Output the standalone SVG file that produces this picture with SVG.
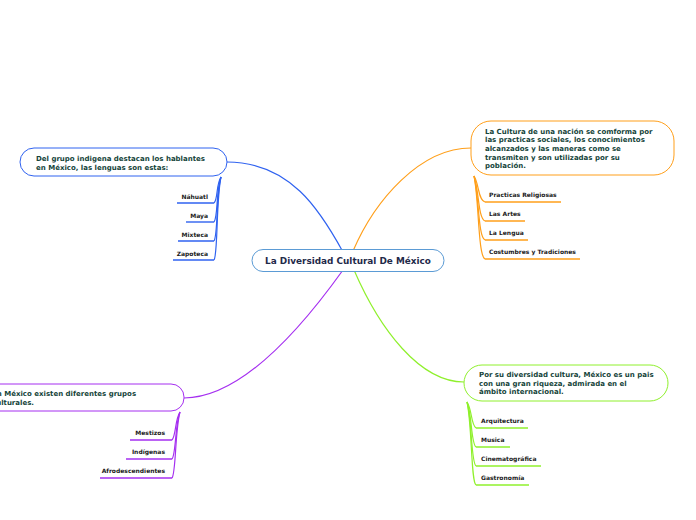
<svg xmlns="http://www.w3.org/2000/svg" width="696" height="520" viewBox="0 0 696 520">
<style>
.t{font-family:"DejaVu Sans",Verdana,sans-serif;font-weight:bold;font-size:7px;fill:#15443a}
.l{font-family:"DejaVu Sans",Verdana,sans-serif;font-weight:bold;font-size:6px;fill:#1a1a1a}
.c{fill:none;stroke-width:1.2}
.node{fill:#fff;stroke-width:1}
</style>
<rect width="696" height="520" fill="#fff"/>
<g id="connectors">
<path class="c" stroke="#2f62f0" d="M227,162 C290,162 320,210 343,252"/>
<path class="c" stroke="#ff9f1a" d="M353,251 C375,200 420,148 471,148"/>
<path class="c" stroke="#8ff02c" d="M354,270 C380,330 420,382 464,382"/>
<path class="c" stroke="#a52ff0" d="M343,270 C300,330 240,398 184,398"/>
<g stroke="#2f62f0" class="c">
<path d="M221,177 C216,184 218,200 214,203"/>
<path d="M221,177 C216,190 218,218 214,222"/>
<path d="M221,177 C216,195 218,236 214,241"/>
<path d="M221,177 C216,200 218,255 214,260"/>
</g>
<g stroke="#2f62f0" stroke-width="1.4">
<line x1="177" y1="203" x2="214" y2="203"/>
<line x1="186" y1="222" x2="214" y2="222"/>
<line x1="178" y1="241" x2="214" y2="241"/>
<line x1="173" y1="260" x2="214" y2="260"/>
</g>
<g stroke="#ff9f1a" class="c">
<path d="M474,176 C479,183 478,200 485,202"/>
<path d="M474,176 C479,190 478,218 485,221"/>
<path d="M474,176 C479,195 478,237 485,240"/>
<path d="M474,176 C479,200 478,256 485,259"/>
</g>
<g stroke="#ff9f1a" stroke-width="1.4">
<line x1="485" y1="202" x2="561" y2="202"/>
<line x1="485" y1="221" x2="525" y2="221"/>
<line x1="485" y1="240" x2="528" y2="240"/>
<line x1="485" y1="259" x2="580" y2="259"/>
</g>
<g stroke="#8ff02c" class="c">
<path d="M467,402 C472,409 471,425 476,428"/>
<path d="M467,402 C472,414 471,444 476,447"/>
<path d="M467,402 C472,419 471,463 476,466"/>
<path d="M467,402 C472,424 471,482 476,485"/>
</g>
<g stroke="#8ff02c" stroke-width="1.4">
<line x1="476" y1="428" x2="528" y2="428"/>
<line x1="476" y1="447" x2="510" y2="447"/>
<line x1="476" y1="466" x2="541" y2="466"/>
<line x1="476" y1="485" x2="529" y2="485"/>
</g>
<g stroke="#a52ff0" class="c">
<path d="M180,412 C175,419 176,436 172,440"/>
<path d="M180,412 C175,424 176,455 172,459"/>
<path d="M180,412 C175,430 176,474 172,478"/>
</g>
<g stroke="#a52ff0" stroke-width="1.4">
<line x1="130" y1="440" x2="172" y2="440"/>
<line x1="126" y1="459" x2="172" y2="459"/>
<line x1="100" y1="478" x2="172" y2="478"/>
</g>
</g>
<g id="central">
<rect class="node" x="252" y="249.5" width="192" height="22" rx="11" stroke="#5b9bd5"/>
<text x="348" y="264" text-anchor="middle" style="font-family:'DejaVu Sans',Verdana,sans-serif;font-weight:bold;font-size:8.9px;fill:#1f2a4a">La Diversidad Cultural De México</text>
</g>
<g id="node-lenguas">
<rect class="node" x="20" y="148" width="207" height="28" rx="14" stroke="#2f62f0"/>
<text class="t" x="36" y="161">Del grupo indigena destacan los hablantes</text>
<text class="t" x="36" y="170">en México, las lenguas son estas:</text>
</g>
<g id="leaves-lenguas">
<text class="l" x="208" y="199" text-anchor="end">Náhuatl</text>
<text class="l" x="208" y="218" text-anchor="end">Maya</text>
<text class="l" x="208" y="237" text-anchor="end">Mixteca</text>
<text class="l" x="208" y="256" text-anchor="end">Zapoteca</text>
</g>
<g id="node-cultura">
<rect class="node" x="471" y="121" width="203" height="54" rx="20" stroke="#ff9f1a"/>
<text class="t" x="485" y="133.5">La Cultura de una nación se comforma por</text>
<text class="t" x="485" y="142.2">las practicas sociales, los conocimientos</text>
<text class="t" x="485" y="150.9">alcanzados y las maneras como se</text>
<text class="t" x="485" y="159.6">transmiten y son utilizadas por su</text>
<text class="t" x="485" y="168.3">población.</text>
</g>
<g id="leaves-cultura">
<text class="l" x="489" y="197">Practicas Religiosas</text>
<text class="l" x="489" y="216">Las Artes</text>
<text class="l" x="489" y="235">La Lengua</text>
<text class="l" x="489" y="254">Costumbres y Tradiciones</text>
</g>
<g id="node-riqueza">
<rect class="node" x="464" y="365" width="204" height="36" rx="18" stroke="#8ff02c"/>
<text class="t" x="479" y="377">Por su diversidad cultura, México es un pais</text>
<text class="t" x="479" y="385.7">con una gran riqueza, admirada en el</text>
<text class="t" x="479" y="394.4">ámbito internacional.</text>
</g>
<g id="leaves-riqueza">
<text class="l" x="481" y="423">Arquitectura</text>
<text class="l" x="481" y="442">Musica</text>
<text class="l" x="481" y="461">Cinematográfica</text>
<text class="l" x="481" y="480">Gastronomía</text>
</g>
<g id="node-grupos">
<rect class="node" x="-20" y="384" width="204" height="27" rx="13" stroke="#a52ff0"/>
<text class="t" x="-8" y="396">En México existen diferentes grupos</text>
<text class="t" x="-8" y="405">culturales.</text>
</g>
<g id="leaves-grupos">
<text class="l" x="165" y="435" text-anchor="end">Mestizos</text>
<text class="l" x="165" y="454" text-anchor="end">Indígenas</text>
<text class="l" x="165" y="473" text-anchor="end">Afrodescendientes</text>
</g>
</svg>
